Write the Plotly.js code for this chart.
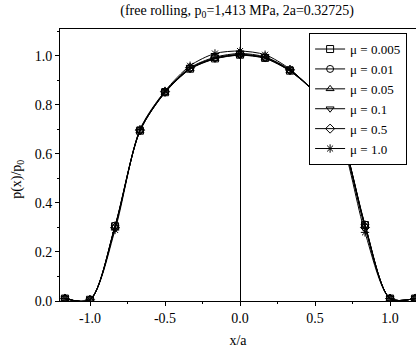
<!DOCTYPE html>
<html><head><meta charset="utf-8">
<script src="https://cdn.plot.ly/plotly-3.0.1.min.js"></script>
<style>body{margin:0;background:#fff}#chart{width:416px;height:348px}</style>
</head><body><div id="chart"></div>
<script>
const xa = [-1.167, -1.0, -0.833, -0.667, -0.5, -0.333, -0.167, 0.0, 0.167, 0.333, 0.5, 0.667, 0.833, 1.0, 1.167];
const p_mu0005 = [0.01, 0.005, 0.305, 0.695, 0.852, 0.948, 0.990, 1.005, 0.992, 0.940, 0.850, 0.690, 0.310, 0.010, 0.010];
const p_mu001  = [0.01, 0.005, 0.308, 0.696, 0.853, 0.950, 0.992, 1.006, 0.993, 0.942, 0.851, 0.690, 0.312, 0.010, 0.010];
const p_mu005  = [0.01, 0.005, 0.304, 0.694, 0.851, 0.947, 0.989, 1.004, 0.991, 0.939, 0.849, 0.688, 0.308, 0.010, 0.010];
const p_mu01   = [0.01, 0.005, 0.303, 0.693, 0.850, 0.946, 0.988, 1.003, 0.990, 0.938, 0.848, 0.687, 0.306, 0.010, 0.010];
const p_mu05   = [0.01, 0.005, 0.300, 0.697, 0.854, 0.952, 0.995, 1.010, 0.996, 0.943, 0.848, 0.684, 0.300, 0.010, 0.010];
const p_mu10   = [0.01, 0.005, 0.290, 0.700, 0.857, 0.960, 1.010, 1.020, 1.005, 0.946, 0.845, 0.675, 0.280, 0.010, 0.010];
const seriesNames = ["μ = 0.005", "μ = 0.01", "μ = 0.05", "μ = 0.1", "μ = 0.5", "μ = 1.0"];
const seriesData = [p_mu0005, p_mu001, p_mu005, p_mu01, p_mu05, p_mu10];
const symbols = ["square-open", "circle-open", "triangle-up-open", "triangle-down-open", "diamond-open", "asterisk-open"];

const traces = seriesNames.map((n, i) => ({
  x: xa, y: seriesData[i], name: n, type: 'scatter', mode: 'lines+markers',
  line: {color: '#000', width: 1, shape: 'spline', smoothing: 0.8},
  marker: {symbol: symbols[i], size: 7, color: '#000', line: {color: '#000', width: 1}}
}));

const F = "Liberation Serif, Times New Roman, serif";
const layout = {
  width: 416, height: 348,
  margin: {l: 60, r: 0, t: 29, b: 47},
  paper_bgcolor: '#fff', plot_bgcolor: '#fff',
  font: {family: F, size: 14, color: '#000'},
  title: {text: "(free rolling, p<sub>0</sub>=1,413 MPa, 2a=0.32725)", x: 0.57, xanchor: 'center', y: 0.985, yanchor: 'top', font: {family: F, size: 14, color: '#000'}},
  xaxis: {
    range: [-1.2, 1.173], tickvals: [-1.0, -0.5, 0.0, 0.5, 1.0], ticktext: ["-1.0", "-0.5", "0.0", "0.5", "1.0"],
    ticks: 'outside', ticklen: 4, tickcolor: '#000', showgrid: false,
    minor: {dtick: 0.25, tick0: 0, ticks: 'outside', ticklen: 2, tickcolor: '#000'},
    showline: true, linecolor: '#000', linewidth: 1, mirror: true,
    zeroline: true, zerolinecolor: '#000', zerolinewidth: 1,
    title: {text: "x/a", standoff: 10, font: {family: F, size: 14}}
  },
  yaxis: {
    range: [0, 1.11], tickvals: [0, 0.2, 0.4, 0.6, 0.8, 1.0], ticktext: ["0.0", "0.2", "0.4", "0.6", "0.8", "1.0"],
    ticks: 'outside', ticklen: 4, tickcolor: '#000', showgrid: false,
    minor: {dtick: 0.1, tick0: 0, ticks: 'outside', ticklen: 2, tickcolor: '#000'},
    showline: true, linecolor: '#000', linewidth: 1, zeroline: false
  },
  annotations: [{text: "p(x)/p<sub>0</sub>", xref: 'paper', yref: 'paper', x: -0.118, y: 0.449, xanchor: 'center', yanchor: 'middle',
                 textangle: -90, showarrow: false, font: {family: F, size: 14, color: '#000'}}],
  showlegend: true,
  legend: {x: 0.975, xanchor: 'right', y: 0.985, yanchor: 'top', bgcolor: '#fff', bordercolor: '#000', borderwidth: 1,
           font: {family: F, size: 13, color: '#000'}, tracegroupgap: 0, itemwidth: 30}
};
Plotly.newPlot('chart', traces, layout, {staticPlot: true, displayModeBar: false});
</script>
</body></html>
